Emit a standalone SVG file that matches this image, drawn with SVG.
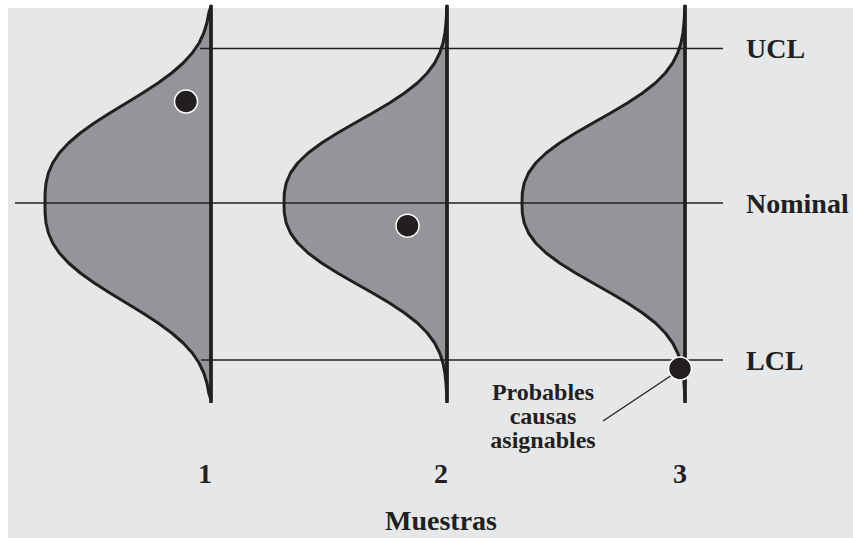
<svg xmlns="http://www.w3.org/2000/svg" xmlns:xlink="http://www.w3.org/1999/xlink" width="853" height="538" viewBox="0 0 853 538">
  <style>
    .bell { fill: #939598; stroke: #231f20; stroke-width: 3; stroke-linejoin: round; }
    .axis { stroke: #231f20; stroke-width: 3.5; fill: none; }
    .limit { stroke: #231f20; stroke-width: 1.4; fill: none; }
    .leader { stroke: #231f20; stroke-width: 1.4; fill: none; }
    .dot { fill: #231f20; stroke: #ffffff; stroke-width: 1.5; }
    .lbl { font-family: "Liberation Serif", "Times New Roman", serif; font-weight: bold; font-size: 28px; fill: #231f20; }
    .note { font-size: 24px; }
    .mid { text-anchor: middle; }
  </style>
  <defs>
    <path id="bellWide" d="M0,-197 L-2.2,-190 L-4.1,-180 L-7.2,-170 L-11.9,-160 L-18.7,-150 L-27.8,-140 L-39.3,-130 L-52.9,-120 L-68.3,-110 L-84.6,-100 L-101.1,-90 L-116.7,-80 L-130.7,-70 L-142.4,-60 L-151.7,-50 L-158.3,-40 L-162.6,-30 L-165,-20 L-165.9,-10 L-166,0 L-165.9,10 L-165,20 L-162.6,30 L-158.3,40 L-151.7,50 L-142.4,60 L-130.7,70 L-116.7,80 L-101.1,90 L-84.6,100 L-68.3,110 L-52.9,120 L-39.3,130 L-27.8,140 L-18.7,150 L-11.9,160 L-7.2,170 L-4.1,180 L-2.2,190 L0,197 Z"/>
    <path id="bellNarrow" d="M0,-197 L-1,-180 L-2.1,-170 L-4,-160 L-7.3,-150 L-12.3,-140 L-19.7,-130 L-29.6,-120 L-42.4,-110 L-57.5,-100 L-74.4,-90 L-92.1,-80 L-109.5,-70 L-125.4,-60 L-138.9,-50 L-149.3,-40 L-156.5,-30 L-160.8,-20 L-162.7,-10 L-163,0 L-162.7,10 L-160.8,20 L-156.5,30 L-149.3,40 L-138.9,50 L-125.4,60 L-109.5,70 L-92.1,80 L-74.4,90 L-57.5,100 L-42.4,110 L-29.6,120 L-19.7,130 L-12.3,140 L-7.3,150 L-4,160 L-2.1,170 L-1,180 L0,197 Z"/>
  </defs>

  <rect id="background" x="8" y="8" width="845" height="530" fill="#e6e7e8"/>

  <g id="sample-1" transform="translate(211,203)">
    <use xlink:href="#bellWide" href="#bellWide" class="bell"/>
    <line class="axis" x1="0" y1="-198" x2="0" y2="200"/>
  </g>
  <g id="sample-2" transform="translate(447,203)">
    <use xlink:href="#bellNarrow" href="#bellNarrow" class="bell"/>
    <line class="axis" x1="0" y1="-198" x2="0" y2="200"/>
  </g>
  <g id="sample-3" transform="translate(685,203)">
    <use xlink:href="#bellNarrow" href="#bellNarrow" class="bell"/>
    <line class="axis" x1="0" y1="-198" x2="0" y2="200"/>
  </g>

  <g id="connectors">
    <line id="ucl-line" class="limit" x1="200" y1="48.5" x2="723" y2="48.5"/>
    <line id="nominal-line" class="limit" x1="15" y1="203" x2="723" y2="203"/>
    <line id="lcl-line" class="limit" x1="201" y1="360" x2="723" y2="360"/>
    <line id="leader" class="leader" x1="603" y1="421" x2="672" y2="375"/>
  </g>

  <g id="points">
    <circle id="point-1" class="dot" cx="186" cy="101.5" r="11.5"/>
    <circle id="point-2" class="dot" cx="407.5" cy="225.7" r="11.5"/>
    <circle id="point-3" class="dot" cx="680" cy="368.5" r="11.5"/>
  </g>

  <g id="labels">
    <text class="lbl" x="746" y="58">UCL</text>
    <text class="lbl" x="746" y="213">Nominal</text>
    <text class="lbl" x="746" y="370">LCL</text>
    <text class="lbl note mid" x="543" y="400">Probables</text>
    <text class="lbl note mid" x="543" y="424">causas</text>
    <text class="lbl note mid" x="543" y="448">asignables</text>
    <text class="lbl mid" x="205" y="483">1</text>
    <text class="lbl mid" x="441" y="483">2</text>
    <text class="lbl mid" x="680" y="483">3</text>
    <text class="lbl mid" x="441" y="530">Muestras</text>
  </g>
</svg>
